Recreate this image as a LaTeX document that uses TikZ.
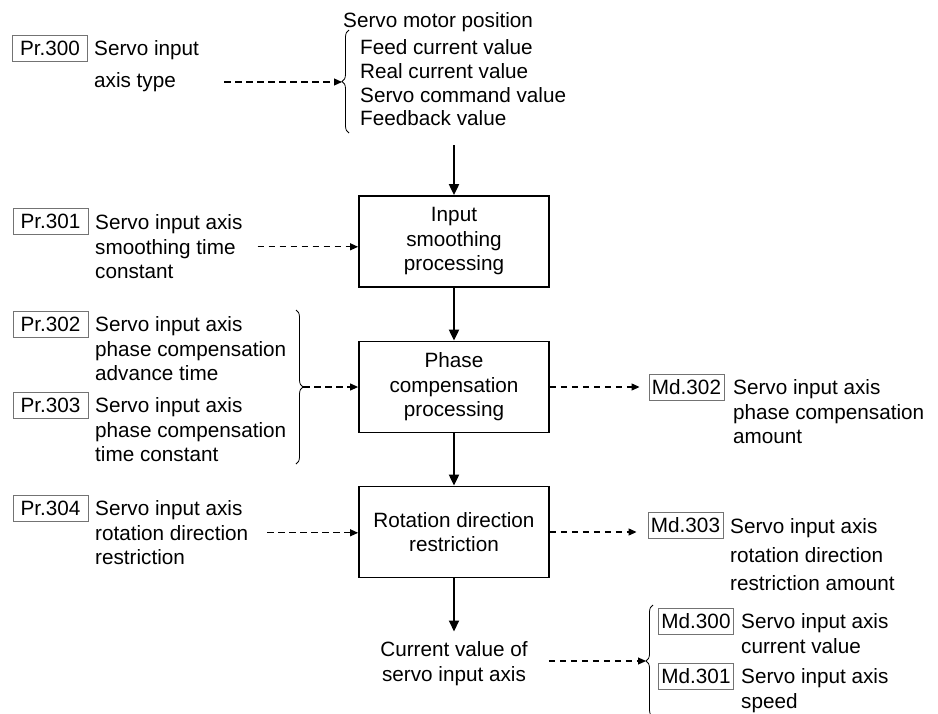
\documentclass[tikz,border=0pt]{standalone}
\usepackage{fontspec}
\setmainfont{Liberation Sans}
\usetikzlibrary{arrows.meta,positioning,calc,decorations.pathreplacing}

\begin{document}
\begin{tikzpicture}[
        x=1pt, y=-1pt,
        % Estilos
        every node/.style={font=\fontsize{20.7}{24.5}\selectfont},
        box/.style={rectangle, draw, line width=1.8pt, minimum width=190pt, minimum height=91pt, align=center, inner sep=0pt},
        tag/.style={rectangle, draw=black!55, line width=0.9pt, minimum width=75pt, minimum height=26pt, inner sep=0pt},
        rotulo/.style={anchor=north west, align=left, inner sep=0pt},
        arrow/.style={-{Triangle[length=11pt, width=10pt]}, line width=2pt},
        tracejada/.style={-{Triangle[length=8pt, width=7pt]}, line width=1.1pt, dash pattern=on 6.5pt off 4.5pt},
        chave/.style={decorate, decoration={brace, amplitude=7pt}, line width=0.8pt}
    ]
        \clip (0,0) rectangle (938,713);

        % Topo: posicao do servo motor
        \node (motor) [rotulo] at (343, 12.5) {Servo motor position};
        \node (lista) [rotulo, font=\fontsize{20.7}{23.7}\selectfont] at (360, 39.5) {Feed current value\\Real current value\\Servo command value\\Feedback value};
        \draw [chave] (349, 133) -- (349, 30);
        \coordinate (tipA) at (342, 82);

        % Pr.300
        \node (pr300) [tag] at (50, 48) {Pr.300};
        \node (t300) [rotulo] at (94, 40.5) {Servo input\\[7.5pt]axis type};
        \draw [tracejada, shorten <=25pt] (t300.east |- tipA) -- (tipA);

        % Coluna central: processamento
        \node (suav) [box] at (454, 241.5) {Input\\smoothing\\processing};
        \node (fase) [box] at (454, 387) {Phase\\compensation\\processing};
        \node (rotacao) [box] at (454, 532) {Rotation direction\\restriction};
        \node (atual) [anchor=north, align=center, inner sep=0pt] at (454, 641.5) {Current value of\\servo input axis};

        \draw [arrow, shorten <=19pt] (suav.north |- lista.south) -- (suav.north);
        \draw [arrow] (suav) -- (fase);
        \draw [arrow] (fase) -- (rotacao);
        \draw [arrow, shorten >=10pt] (rotacao) -- (atual);

        % Pr.301
        \node (pr301) [tag] at (50.5, 221) {Pr.301};
        \node (t301) [rotulo] at (95, 214.5) {Servo input axis\\smoothing time\\constant};
        \draw [tracejada, shorten <=15pt] (t301.east) -- (t301.east -| suav.west);

        % Pr.302 e Pr.303
        \node (pr302) [tag] at (50.5, 324) {Pr.302};
        \node (t302) [rotulo] at (95, 316.5) {Servo input axis\\phase compensation\\advance time};
        \node (pr303) [tag] at (50.5, 405) {Pr.303};
        \node (t303) [rotulo] at (95, 397.5) {Servo input axis\\phase compensation\\time constant};
        \draw [chave] (296, 310) -- (296, 464);
        \coordinate (tipB) at (303, 387);
        \draw [tracejada] (tipB) -- (fase.west);

        % Pr.304
        \node (pr304) [tag] at (50.5, 508) {Pr.304};
        \node (t304) [rotulo] at (95, 500.5) {Servo input axis\\rotation direction\\restriction};
        \draw [tracejada, shorten <=19pt] (t304.east) -- (t304.east -| rotacao.west);

        % Saidas: Md.302 e Md.303
        \node (md302) [tag] at (686.5, 387.5) {Md.302};
        \node (tmd302) [rotulo] at (733, 379.5) {Servo input axis\\phase compensation\\amount};
        \draw [tracejada, shorten >=9pt] (fase.east) -- (fase.east -| md302.west);

        \node (md303) [tag] at (685.5, 525.5) {Md.303};
        \node (tmd303) [rotulo, font=\fontsize{20.7}{28.5}\selectfont] at (730, 518.5) {Servo input axis\\rotation direction\\restriction amount};
        \draw [tracejada, shorten >=11pt] (rotacao.east) -- (rotacao.east -| md303.west);

        % Valor atual: Md.300 e Md.301
        \draw [chave] (653, 717) -- (653, 605);
        \coordinate (tipC) at (646, 661);
        \draw [tracejada, shorten <=21pt] (atual.east |- tipC) -- (tipC);
        \node (md300) [tag] at (696, 621) {Md.300};
        \node (tmd300) [rotulo] at (741, 613.5) {Servo input axis\\current value};
        \node (md301) [tag] at (696, 676) {Md.301};
        \node (tmd301) [rotulo] at (741, 668.5) {Servo input axis\\speed};

    \end{tikzpicture}
\end{document}
